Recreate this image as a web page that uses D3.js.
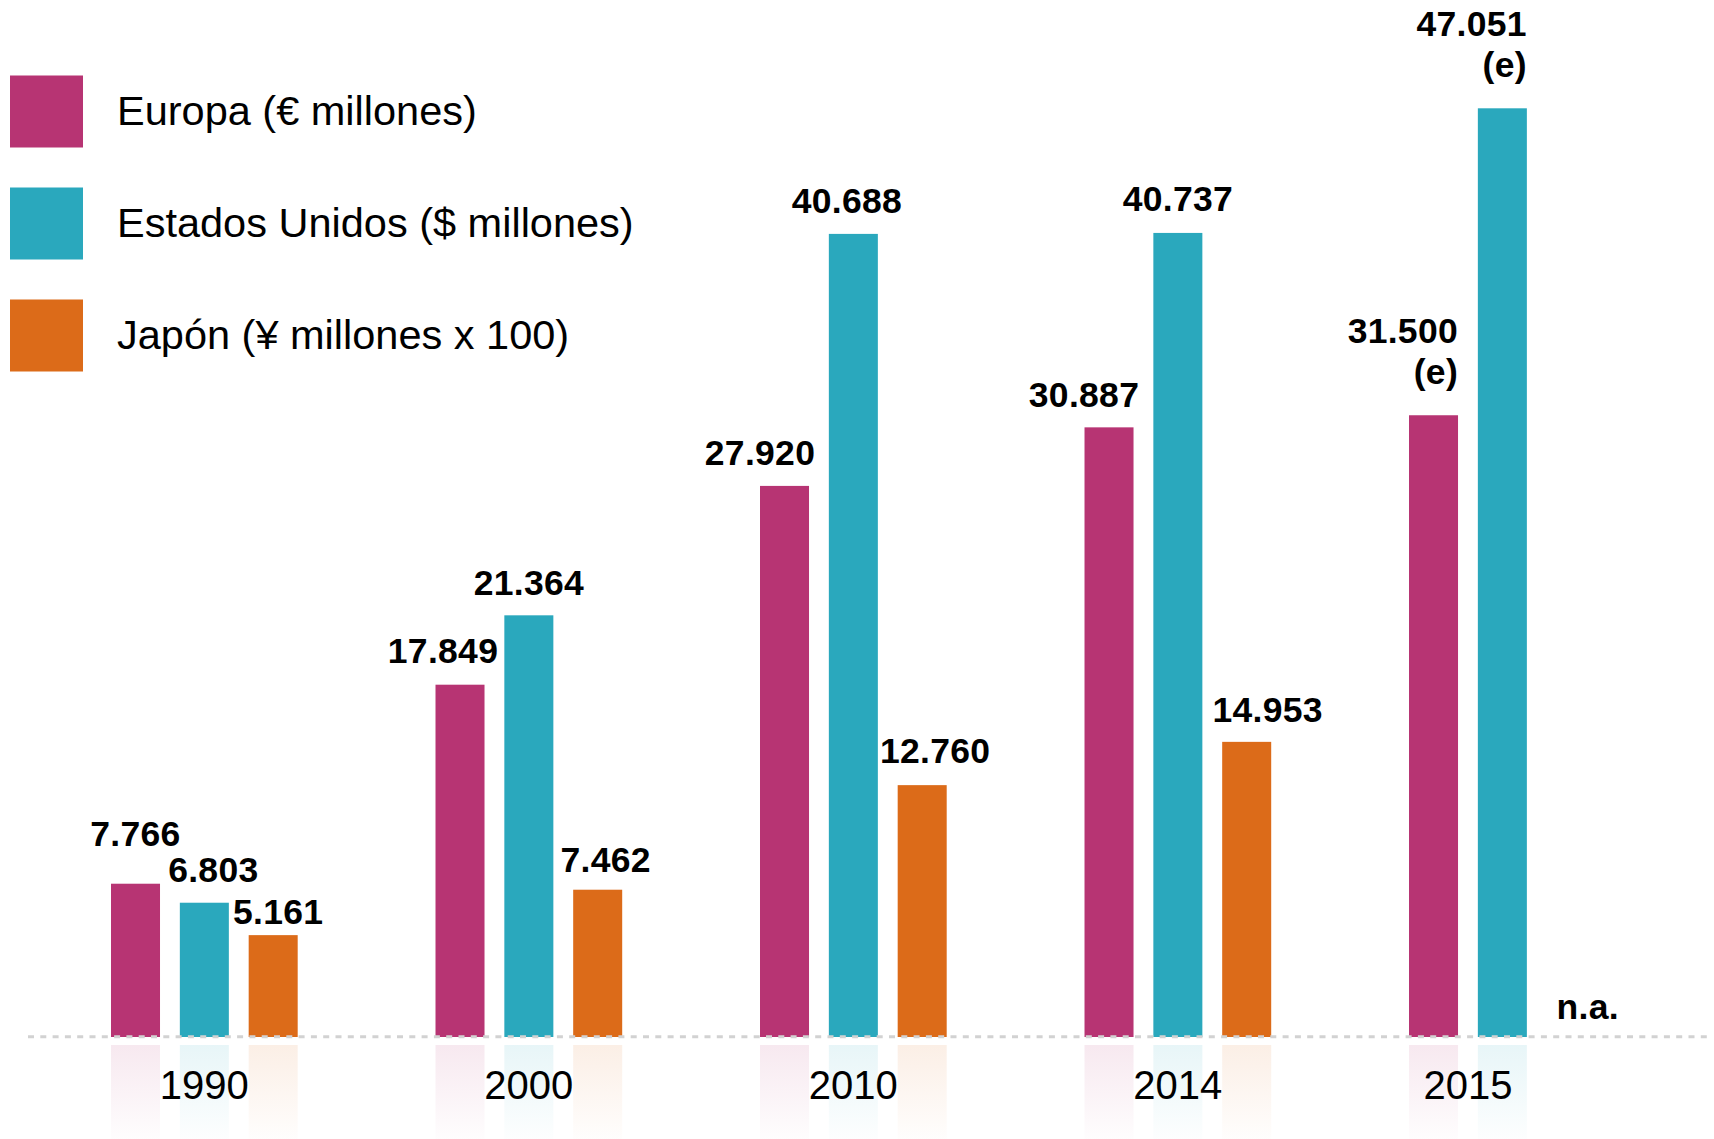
<!DOCTYPE html>
<html>
<head>
<meta charset="utf-8">
<script src="https://cdn.jsdelivr.net/npm/d3@7"></script>
<style>
  html, body { margin: 0; padding: 0; background: #fff; }
  svg { display: block; font-family: "Liberation Sans", Arial, Helvetica, sans-serif; }
</style>
</head>
<body>
<svg id="chart" width="1714" height="1139"></svg>
<script>
// ---- data ----
const years = ["1990", "2000", "2010", "2014", "2015"];
const series = ["Europa (€ millones)", "Estados Unidos ($ millones)", "Japón (¥ millones x 100)"];
const europa = [7766, 17849, 27920, 30887, 31500];
const estadosUnidos = [6803, 21364, 40688, 40737, 47051];
const japon = [5161, 7462, 12760, 14953, null];
const estimated = [
  [false, false, false],
  [false, false, false],
  [false, false, false],
  [false, false, false],
  [true, true, false]
];
const naLabel = "n.a.";
const estLabel = "(e)";

// ---- layout / style ----
const colors = ["#b73473", "#2aa8bd", "#dc6b19"];
const W = 1714, H = 1139;
const baseY = 1037, topY = 108.3;
// per-label nudges [dx, gap above bar top] (hand placement in the original)
const labelNudge = [
  [[0, 38], [9, 21], [5, 11]],
  [[-17, 22], [0, 20], [8, 18]],
  [[-24.5, 21], [-6.5, 20.5], [13, 22]],
  [[-25, 20.5], [0, 21.7], [21, 20]],
  [[0, 0], [0, 0], [16.5, 18]]
];

const valuesBySeries = [europa, estadosUnidos, japon];
const rows = [];
years.forEach((yr, i) => {
  series.forEach((s, j) => {
    rows.push({ year: yr, yi: i, series: s, si: j, value: valuesBySeries[j][i], est: estimated[i][j] });
  });
});

const svg = d3.select("#chart");
const fmt = d3.formatLocale({ decimal: ",", thousands: ".", grouping: [3], currency: ["", ""] }).format(",d");

const x0 = d3.scaleBand().domain(years).range([111, 1595.7]).paddingInner(0.4247).paddingOuter(0);
const x1 = d3.scaleBand().domain(series).range([0, x0.bandwidth()]).paddingInner(0.288).paddingOuter(0);
const y = d3.scaleLinear().domain([0, d3.max(estadosUnidos)]).range([baseY, topY]);
const color = d3.scaleOrdinal().domain(series).range(colors);

// gradients for reflections
const defs = svg.append("defs");
series.forEach((s, j) => {
  const g = defs.append("linearGradient").attr("id", "refl" + j)
    .attr("x1", 0).attr("y1", 0).attr("x2", 0).attr("y2", 1);
  g.append("stop").attr("offset", "0%").attr("stop-color", colors[j]).attr("stop-opacity", 0.11);
  g.append("stop").attr("offset", "100%").attr("stop-color", colors[j]).attr("stop-opacity", 0.01);
});

const present = rows.filter(d => d.value != null);
const bx = d => x0(d.year) + x1(d.series);

// reflections
const reflTop = 1045;
svg.append("g").selectAll("rect").data(present).join("rect")
  .attr("x", bx)
  .attr("y", reflTop)
  .attr("width", x1.bandwidth())
  .attr("height", d => Math.min(baseY - y(d.value), H - reflTop))
  .attr("fill", d => `url(#refl${d.si})`);

// bars
svg.append("g").selectAll("rect").data(present).join("rect")
  .attr("x", bx)
  .attr("y", d => y(d.value))
  .attr("width", x1.bandwidth())
  .attr("height", d => baseY - y(d.value))
  .attr("fill", d => color(d.series));

// dashed baseline
svg.append("line")
  .attr("x1", 28).attr("x2", 1710)
  .attr("y1", baseY - 0.3).attr("y2", baseY - 0.3)
  .attr("stroke", "#d2d2d2").attr("stroke-width", 3)
  .attr("stroke-dasharray", "6,6.3");

// value labels
const lab = svg.append("g").attr("font-weight", "bold").attr("font-size", 35.5)
  .attr("letter-spacing", "0.3px").attr("fill", "#000");
rows.forEach(d => {
  const cx = bx(d) + x1.bandwidth() / 2;
  const [dx, gap] = labelNudge[d.yi][d.si];
  if (d.value == null) {
    lab.append("text").attr("x", cx + dx).attr("y", baseY - gap)
      .attr("text-anchor", "middle").text(naLabel);
  } else if (d.est) {
    const t = lab.append("text").attr("text-anchor", "end");
    const xr = bx(d) + x1.bandwidth();
    t.append("tspan").attr("x", xr).attr("y", y(d.value) - 72).text(fmt(d.value));
    t.append("tspan").attr("x", xr).attr("y", y(d.value) - 31).text(estLabel);
  } else {
    lab.append("text").attr("x", cx + dx).attr("y", y(d.value) - gap)
      .attr("text-anchor", "middle").text(fmt(d.value));
  }
});

// year labels (centered over the bars present)
svg.append("g").selectAll("text").data(years).join("text")
  .attr("x", (yr, i) => {
    const cs = present.filter(d => d.yi === i).map(d => bx(d) + x1.bandwidth() / 2);
    return d3.mean(cs);
  })
  .attr("y", 1099)
  .attr("text-anchor", "middle")
  .attr("font-size", 40)
  .attr("fill", "#000")
  .text(d => d);

// legend
const leg = svg.append("g");
series.forEach((s, j) => {
  const yy = 75.5 + j * 112;
  leg.append("rect").attr("x", 10).attr("y", yy).attr("width", 73).attr("height", 72).attr("fill", color(s));
  leg.append("text").attr("x", 117).attr("y", yy + 36 + 13).attr("font-size", 41.5).attr("fill", "#000").text(s);
});
</script>
</body>
</html>
